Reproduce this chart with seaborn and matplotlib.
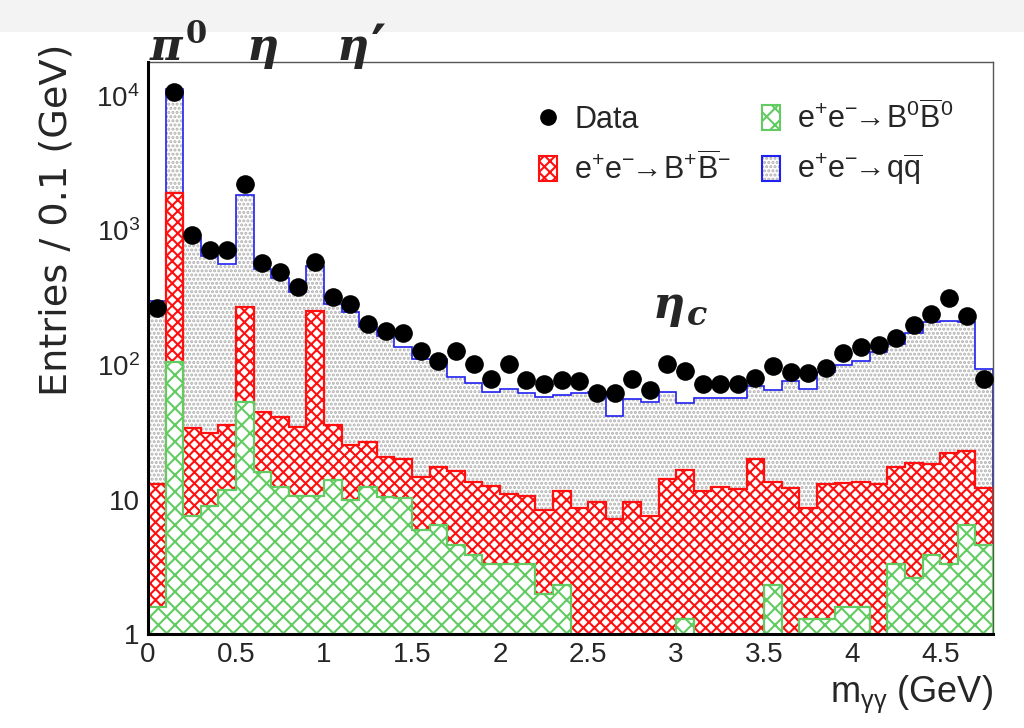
import numpy as np
import pandas as pd
import matplotlib
matplotlib.use("Agg")
import matplotlib.pyplot as plt
import seaborn as sns
from matplotlib.lines import Line2D
from matplotlib.patches import Patch, Rectangle
from matplotlib.ticker import MultipleLocator, LogLocator, NullFormatter

# Diphoton invariant-mass binning: 48 bins of 0.1 GeV
mass_min, mass_max, bin_width = 0.0, 4.8, 0.1
bin_edges = np.round(np.linspace(mass_min, mass_max, 49), 2)

# Observed events per bin
data_counts = [265, 10700, 926, 716, 716, 2218, 576, 492, 383, 587,
               322, 284, 202, 180, 172, 127, 107, 127, 102, 79,
               101, 78, 72, 77, 76, 62, 62, 79, 65, 102,
               91, 72, 72, 72, 80, 98, 89, 87, 95, 123,
               137, 140, 159, 198, 239, 313, 233, 79]

# Simulated components (stacked: B0B0bar at the bottom, then B+B-, then qqbar)
bb_neutral = [1.6, 106, 7.5, 8.9, 11.7, 53, 16.1, 12.4, 10.7, 10.6,
              14.0, 9.9, 12.3, 10.5, 10.2, 5.9, 6.5, 4.6, 3.9, 3.3,
              3.3, 3.3, 2.0, 2.3, 0, 0, 0, 0, 0, 0,
              1.3, 0, 0, 0, 0, 2.3, 0, 1.3, 1.3, 1.6,
              1.6, 0, 3.3, 2.6, 3.9, 3.3, 6.5, 4.6]
bb_charged = [11.4, 1784, 26.3, 22.2, 24.1, 218, 28.4, 28.4, 24.1, 242,
              21.8, 15.5, 14.6, 10.3, 9.8, 8.9, 11.0, 11.8, 9.7, 9.3,
              7.6, 7.3, 6.3, 9.3, 8.6, 9.6, 7.2, 9.6, 7.5, 14.2,
              15.3, 11.6, 12.4, 12.0, 20.1, 11.3, 12.1, 7.3, 11.7, 11.6,
              12.0, 13.0, 14.0, 16.0, 14.4, 19.0, 16.5, 7.5]
qq_continuum = [287, 9410, 846, 614, 531, 1569, 472, 400, 312, 292,
                248, 221, 164, 144, 117, 96, 92.5, 65.6, 60.4, 50.4,
                55.1, 51.0, 49.2, 48.4, 53.4, 52.9, 34.8, 46.4, 45.5, 48.8,
                35.9, 45.4, 44.6, 45.0, 49.9, 51.4, 63.9, 57.4, 75.0, 86.8,
                94.4, 111, 125.8, 155.4, 191.7, 191.7, 187, 81.4]

x_ticks = [0, 0.5, 1, 1.5, 2, 2.5, 3, 3.5, 4, 4.5]
x_tick_labels = ["0", "0.5", "1", "1.5", "2", "2.5", "3", "3.5", "4", "4.5"]
y_ticks = [1, 10, 100, 1000, 10000]
y_tick_labels = ["1", "10", r"$\mathregular{10^{2}}$", r"$\mathregular{10^{3}}$", r"$\mathregular{10^{4}}$"]

legend_labels = [
    "Data",
    r"$\mathregular{e^{+}e^{-}\!\!\rightarrow\! B^{+}\overline{B}^{-}}$",
    r"$\mathregular{e^{+}e^{-}\!\!\rightarrow\! B^{0}\overline{B}^{0}}$",
    r"$\mathregular{e^{+}e^{-}\!\!\rightarrow\! q\overline{q}}$",
]

RED = "#ff1010"
GREEN = "#62cc62"
BLUE = "#2020f0"
DOTS = "#b0b0b0"

sns.set_theme(style="white")
plt.rcParams["font.family"] = ["Liberation Sans", "DejaVu Sans"]
plt.rcParams["mathtext.fontset"] = "custom"
plt.rcParams["mathtext.rm"] = "Liberation Sans"
plt.rcParams["mathtext.it"] = "Liberation Sans:italic"
plt.rcParams["mathtext.bf"] = "Liberation Sans:bold"
plt.rcParams["hatch.linewidth"] = 1.5

fig = plt.figure(figsize=(10.24, 7.28), dpi=100)
fig.patches.append(Rectangle((0, 1 - 32 / 728), 1, 32 / 728, transform=fig.transFigure,
                             facecolor="#f3f3f3", edgecolor="none", zorder=-5))
ax = fig.add_axes([148 / 1024, 1 - 634 / 728, (993 - 148) / 1024, (634 - 62) / 728])

centers = (bin_edges[:-1] + bin_edges[1:]) / 2
level_green = np.array(bb_neutral, dtype=float)
level_red = level_green + np.array(bb_charged, dtype=float)
level_total = level_red + np.array(qq_continuum, dtype=float)


def draw_layer(levels, pattern, pattern_color, outline, lw, z):
    frame = pd.DataFrame({"mass": centers, "entries": levels})
    n0 = len(ax.collections)
    sns.histplot(data=frame, x="mass", weights="entries", binwidth=bin_width,
                 binrange=(mass_min, mass_max), element="step", fill=True,
                 color="white", alpha=1.0, linewidth=0, ax=ax)
    for coll in ax.collections[n0:]:
        coll.set_facecolor("white")
        coll.set_edgecolor(pattern_color)
        coll.set_hatch(pattern)
        coll.set_linewidth(0)
        coll.set_zorder(z)
    ax.stairs(levels, bin_edges, baseline=0, color=outline, linewidth=lw, zorder=z + 0.1)


draw_layer(level_total, "....", DOTS, BLUE, 1.2, 1)
draw_layer(level_red, "xxx", RED, RED, 1.6, 2)
draw_layer(level_green, "xx", GREEN, GREEN, 1.6, 3)

ax.errorbar(centers, data_counts, xerr=bin_width / 2, fmt="none", ecolor="black",
            elinewidth=1.0, zorder=5)
sns.scatterplot(x=centers, y=data_counts, color="black", s=180, linewidth=0,
                zorder=6, ax=ax, legend=False)

ax.set_yscale("log")
ax.set_xlim(mass_min, mass_max)
ax.set_ylim(1, 1.79e4)
ax.set_xlabel("")
ax.set_ylabel("")

ax.set_xticks(x_ticks, x_tick_labels)
ax.xaxis.set_minor_locator(MultipleLocator(0.1))
ax.set_yticks(y_ticks, y_tick_labels)
ax.yaxis.set_minor_locator(LogLocator(base=10, subs=np.arange(2, 10)))
ax.yaxis.set_minor_formatter(NullFormatter())

ax.tick_params(which="both", direction="in", top=False, right=False, color="black",
               labelsize=20, width=1.6)
ax.tick_params(axis="x", which="major", length=12, pad=6)
ax.tick_params(axis="x", which="minor", length=6)
ax.tick_params(axis="y", which="major", length=15, pad=6)
ax.tick_params(axis="y", which="minor", length=8)
for side in ("left", "bottom"):
    ax.spines[side].set_linewidth(2.2)
    ax.spines[side].set_color("black")
for side in ("top", "right"):
    ax.spines[side].set_linewidth(1.0)
    ax.spines[side].set_color("#555555")
ax.spines["left"].set_zorder(10)
ax.spines["bottom"].set_zorder(10)

# Axis titles placed like ROOT: right/top aligned
fig.text(993 / 1024, 1 - 702 / 728, r"m$_{\mathregular{γγ}}$ (GeV)", ha="right", va="baseline",
         fontsize=26)
fig.text(57 / 1024, 1 - 44 / 728, "Entries / 0.1 (GeV)", rotation=90, ha="center", va="top",
         fontsize=27.5, family=["DejaVu Sans"])

# Legend
handles = [
    Line2D([], [], marker="o", color="black", linestyle="none", markersize=11),
    Patch(facecolor="white", edgecolor=RED, hatch="xxx", linewidth=1.5),
    Patch(facecolor="white", edgecolor=GREEN, hatch="xx", linewidth=1.5),
    (Patch(facecolor="white", edgecolor=DOTS, hatch="....", linewidth=0),
     Patch(facecolor="none", edgecolor=BLUE, linewidth=1.5)),
]
ax.legend(handles, legend_labels, ncol=2, frameon=False, fontsize=22,
          loc="upper left", bbox_to_anchor=(539 / 1024, 1 - 101 / 728),
          bbox_transform=fig.transFigure, handlelength=0.6, handleheight=0.9,
          handletextpad=0.55, columnspacing=1.0, labelspacing=0.55, borderpad=0,
          borderaxespad=0)

# Resonance annotations
serif = "DejaVu Serif"
fig.text(150 / 1024, 1 - 60 / 728, "π", family=serif, style="italic", weight="bold", fontsize=32)
fig.text(186 / 1024, 1 - 43 / 728, "0", family=serif, weight="bold", fontsize=22)
fig.text(247 / 1024, 1 - 60 / 728, "η", family=serif, style="italic", weight="bold", fontsize=32)
fig.text(337 / 1024, 1 - 60 / 728, "η", family=serif, style="italic", weight="bold", fontsize=32)
fig.text(371 / 1024, 1 - 66 / 728, "′", family=["DejaVu Sans"], weight="bold", fontsize=42)
fig.text(653 / 1024, 1 - 318 / 728, "η", family=serif, style="italic", weight="bold", fontsize=32)
fig.text(687 / 1024, 1 - 325 / 728, "c", family=serif, style="italic", weight="bold", fontsize=24)

fig.savefig("out.png", dpi=100)
